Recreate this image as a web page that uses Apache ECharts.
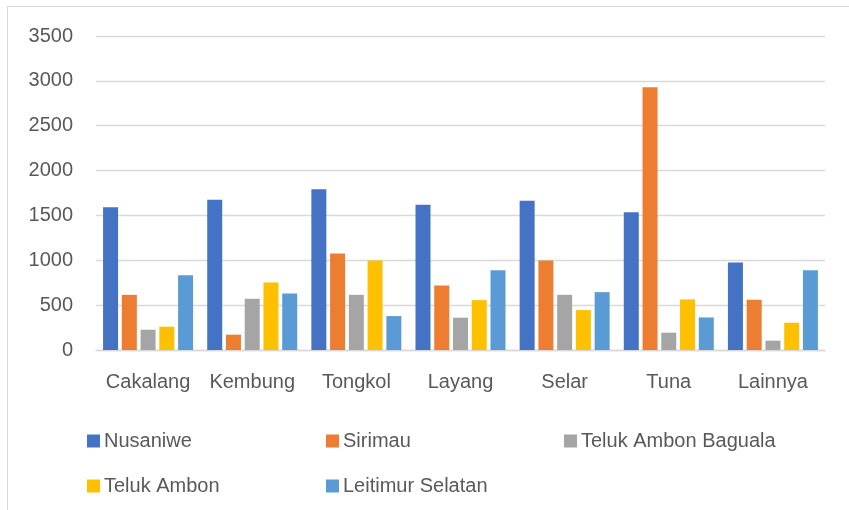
<!DOCTYPE html>
<html>
<head>
<meta charset="utf-8">
<style>
  html, body { margin: 0; padding: 0; background: #fff; }
  #frame { position: absolute; left: 7px; top: 6px; width: 842px; height: 504px;
           border-top: 1px solid #d9d9d9; border-left: 1px solid #d9d9d9; }
  #main { position: absolute; left: 0; top: 0; width: 849px; height: 510px; }
</style>
</head>
<body>
<div id="frame"></div>
<div id="main"></div>
<script src="https://cdn.jsdelivr.net/npm/echarts@6/dist/echarts.min.js"></script>
<script>
  var categories = ['Cakalang', 'Kembung', 'Tongkol', 'Layang', 'Selar', 'Tuna', 'Lainnya'];
  var nusaniwe = [1590, 1676, 1791, 1620, 1665, 1535, 975];
  var sirimau = [615, 171, 1075, 719, 997, 2929, 560];
  var tab = [226, 571, 615, 360, 615, 193, 104];
  var telukAmbon = [260, 753, 997, 556, 445, 564, 304];
  var leitimur = [834, 630, 378, 890, 645, 363, 890];

  var names = ['Nusaniwe', 'Sirimau', 'Teluk Ambon Baguala', 'Teluk Ambon', 'Leitimur Selatan'];
  var colors = ['#4472C4', '#ED7D31', '#A5A5A5', '#FFC000', '#5B9BD5'];
  var values = [nusaniwe, sirimau, tab, telukAmbon, leitimur];

  var font = "'Liberation Sans', Arial, sans-serif";
  var myChart = echarts.init(document.getElementById('main'));

  // legend laid out as a grid, one legend per cell
  var legendPos = [[82, 426], [321, 426], [559, 426], [82, 471], [321, 471]];
  var legends = names.map(function (n, i) {
    return {
      data: [n],
      left: legendPos[i][0],
      top: legendPos[i][1],
      itemWidth: 13,
      itemHeight: 13,
      itemGap: 0,
      icon: 'rect',
      textStyle: { color: '#595959', fontSize: 20, fontFamily: font, padding: [0, 0, 0, -1] }
    };
  });

  var series = names.map(function (n, i) {
    return {
      name: n,
      type: 'bar',
      data: values[i],
      barWidth: 15,
      barGap: '25%',
      itemStyle: { color: colors[i] },
      animation: false
    };
  });

  option = {
    animation: false,
    legend: legends,
    grid: { left: 96, right: 24, top: 36, bottom: 160, containLabel: false },
    xAxis: {
      type: 'category',
      data: categories,
      axisLine: { lineStyle: { color: '#d9d9d9', width: 1.3 } },
      axisTick: { show: false },
      axisLabel: { color: '#595959', fontSize: 20, fontFamily: font, margin: 22, interval: 0, hideOverlap: false }
    },
    yAxis: {
      type: 'value',
      min: 0,
      max: 3500,
      interval: 500,
      axisLine: { show: false },
      axisTick: { show: false },
      axisLabel: {
        color: '#595959', fontSize: 20, fontFamily: font, margin: 23,
        formatter: function (v) { return String(v); }
      },
      splitLine: { lineStyle: { color: '#d9d9d9', width: 1.3 } }
    },
    series: series
  };

  myChart.setOption(option);
</script>
</body>
</html>
